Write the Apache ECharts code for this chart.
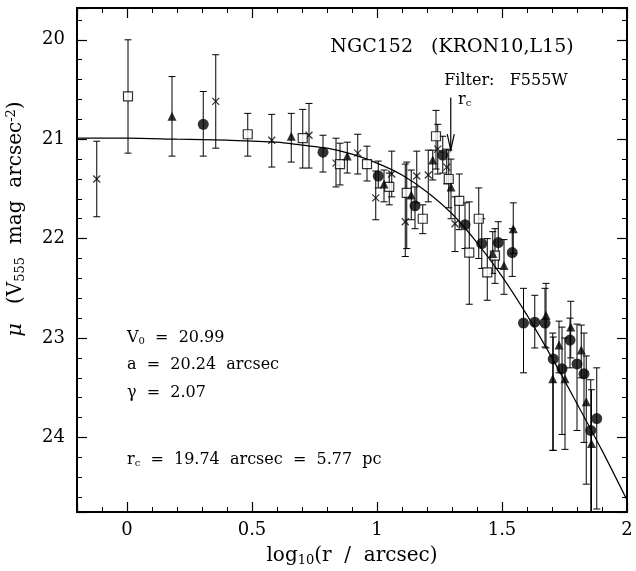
<!DOCTYPE html>
<html>
<head>
<meta charset="utf-8">
<script src="https://cdn.jsdelivr.net/npm/echarts@6/dist/echarts.min.js"></script>
<style>html,body{margin:0;padding:0;background:#fff;}#c{width:636px;height:571px;}</style>
</head>
<body>
<div id="c"></div>
<script>
// Data points: [log10 r, mu, error low (bright end), error high (faint end)]
const crossPts = [
  [-0.121, 21.40, 21.02, 21.78],
  [0.355, 20.62, 20.15, 21.09],
  [0.579, 21.01, 20.75, 21.28],
  [0.728, 20.96, 20.64, 21.29],
  [0.836, 21.24, 20.99, 21.48],
  [0.923, 21.14, 20.95, 21.35],
  [0.995, 21.59, 21.32, 21.81],
  [1.059, 21.35, 21.12, 21.58],
  [1.113, 21.83, 21.25, 22.18],
  [1.159, 21.37, 21.12, 21.64],
  [1.205, 21.36, 21.11, 21.63],
  [1.243, 21.10, 20.85, 21.35],
  [1.279, 21.28, 21.10, 21.45],
  [1.312, 21.85, 21.58, 22.13]
];
const squarePts = [
  [0.004, 20.57, 20.00, 21.14],
  [0.483, 20.95, 20.74, 21.17],
  [0.703, 20.99, 20.70, 21.29],
  [0.852, 21.25, 21.04, 21.46],
  [0.960, 21.25, 21.07, 21.42],
  [1.049, 21.48, 21.34, 21.66],
  [1.119, 21.54, 21.23, 22.10],
  [1.183, 21.80, 21.66, 21.95],
  [1.236, 20.97, 20.71, 21.30],
  [1.287, 21.40, 21.11, 21.69],
  [1.329, 21.62, 21.35, 21.91],
  [1.369, 22.14, 21.63, 22.66],
  [1.407, 21.80, 21.49, 22.20],
  [1.441, 22.34, 22.00, 22.62],
  [1.472, 22.17, 21.90, 22.45]
];
const trianglePts = [
  [0.180, 20.77, 20.37, 21.17],
  [0.657, 20.97, 20.74, 21.23],
  [0.881, 21.17, 21.03, 21.34],
  [1.028, 21.45, 21.31, 21.63],
  [1.137, 21.56, 21.31, 21.81],
  [1.223, 21.21, 21.11, 21.41],
  [1.296, 21.48, 21.20, 21.80],
  [1.463, 22.15, 21.93, 22.35],
  [1.508, 22.27, 22.01, 22.56],
  [1.545, 21.90, 21.64, 22.15],
  [1.676, 22.77, 22.45, 23.10],
  [1.703, 23.41, 22.95, 24.13],
  [1.728, 23.07, 22.83, 23.35],
  [1.752, 23.41, 23.00, 24.12],
  [1.775, 22.89, 22.63, 23.20],
  [1.817, 23.12, 22.87, 23.40],
  [1.837, 23.64, 23.18, 24.47],
  [1.858, 24.06, 23.52, 24.75]
];
const circlePts = [
  [0.305, 20.85, 20.52, 21.17],
  [0.784, 21.13, 20.96, 21.33],
  [1.005, 21.37, 21.22, 21.49],
  [1.152, 21.67, 21.48, 21.90],
  [1.263, 21.16, 20.97, 21.34],
  [1.352, 21.86, 21.64, 22.10],
  [1.419, 22.05, 21.80, 22.30],
  [1.485, 22.04, 21.83, 22.30],
  [1.541, 22.14, 21.90, 22.38],
  [1.586, 22.85, 22.50, 23.35],
  [1.631, 22.84, 22.57, 23.10],
  [1.672, 22.85, 22.50, 23.09],
  [1.705, 23.21, 22.99, 24.13],
  [1.740, 23.31, 22.89, 23.97],
  [1.772, 23.02, 22.80, 23.30],
  [1.800, 23.26, 22.86, 23.93],
  [1.828, 23.36, 22.95, 24.05],
  [1.855, 23.93, 23.42, 24.75],
  [1.879, 23.81, 23.30, 24.72]
];
// Model curve
const curveX = [-0.2, 0.0, 0.2, 0.4, 0.6, 0.7, 0.8, 0.9, 1.0, 1.1, 1.2, 1.3, 1.4, 1.5, 1.6, 1.7, 1.8, 1.9, 2.0];
const curveY = [20.99, 20.99, 21.00, 21.01, 21.03, 21.06, 21.09, 21.15, 21.24, 21.36, 21.53, 21.75, 22.04, 22.38, 22.77, 23.20, 23.66, 24.13, 24.63];
// r_c arrow: [x, top, bottom]
const rcArrow = [[1.295, 20.58, 21.11]];
const xRange = [-0.2, 2];
const yRange = [19.68, 24.75];
const annot = {
  title: 'NGC152   (KRON10,L15)',
  filter: 'Filter:   F555W',
  v0: '20.99', a: '20.24', gamma: '2.07', rc: '19.74', rcpc: '5.77'
};

const FONT = 'DejaVu Serif';
const chart = echarts.init(document.getElementById('c'), null, {renderer: 'canvas'});

function errRender(params, api) {
  const x = api.value(0), lo = api.value(2), hi = api.value(3);
  const p1 = api.coord([x, lo]), p2 = api.coord([x, hi]);
  const w = 3.5;
  const st = {stroke: '#000', lineWidth: 1};
  return {type: 'group', children: [
    {type: 'line', shape: {x1: p1[0], y1: p1[1], x2: p2[0], y2: p2[1]}, style: st},
    {type: 'line', shape: {x1: p1[0] - w, y1: p1[1], x2: p1[0] + w, y2: p1[1]}, style: st},
    {type: 'line', shape: {x1: p2[0] - w, y1: p2[1], x2: p2[0] + w, y2: p2[1]}, style: st}
  ]};
}
function arrowRender(params, api) {
  const x = api.value(0);
  const t = api.coord([x, api.value(1)]), b = api.coord([x, api.value(2)]);
  const st = {stroke: '#000', lineWidth: 1.2, fill: null};
  return {type: 'group', children: [
    {type: 'line', shape: {x1: t[0], y1: t[1], x2: b[0], y2: b[1]}, style: st},
    {type: 'polyline', shape: {points: [[b[0] - 3.5, b[1] - 16], [b[0], b[1]], [b[0] + 3.5, b[1] - 16]]}, style: st}
  ]};
}
function errSeries(pts) {
  return {type: 'custom', renderItem: errRender, data: pts, encode: {x: 0, y: 1}, clip: true, z: 2, silent: true};
}
const axisCommon = {
  type: 'value',
  axisLine: {show: true, onZero: false, lineStyle: {color: '#000', width: 2}},
  axisTick: {show: true, inside: true, length: 10, lineStyle: {color: '#000', width: 1.2}},
  minorTick: {show: true, splitNumber: 5, length: 5, lineStyle: {color: '#000', width: 1}},
  splitLine: {show: false},
  minorSplitLine: {show: false}
};
const labelStyle = {color: '#000', fontFamily: FONT, fontSize: 18, showMinLabel: false, showMaxLabel: false};
const subRich = {
  s: {fontSize: 13, fontFamily: FONT, color: '#000', verticalAlign: 'bottom', padding: [9, 0, 0, 0]},
  p: {fontSize: 13, fontFamily: FONT, color: '#000', verticalAlign: 'top', padding: [0, 0, 8, 0]},
  i: {fontStyle: 'italic', fontFamily: FONT, fontSize: 21, color: '#000'}
};
const smallSub = {s: {fontSize: 10, fontFamily: FONT, color: '#000', verticalAlign: 'bottom', padding: [7, 0, 0, 0]}};

chart.setOption({
  backgroundColor: '#fff',
  animation: false,
  grid: {left: 77, right: 9, top: 8, bottom: 59, outerBoundsMode: 'none'},
  xAxis: [
    Object.assign({}, axisCommon, {position: 'bottom', min: xRange[0], max: xRange[1], splitNumber: 5,
      axisLabel: Object.assign({}, labelStyle, {margin: 9, showMaxLabel: true}),
      name: 'log{s|10}(r  /  arcsec)', nameLocation: 'middle', nameGap: 33,
      nameTextStyle: {color: '#000', fontFamily: FONT, fontSize: 20, rich: subRich}}),
    Object.assign({}, axisCommon, {position: 'top', min: xRange[0], max: xRange[1], splitNumber: 5,
      axisLabel: {show: false}})
  ],
  yAxis: [
    Object.assign({}, axisCommon, {position: 'left', inverse: true, min: yRange[0], max: yRange[1], splitNumber: 5,
      axisLabel: Object.assign({}, labelStyle, {margin: 12})}),
    Object.assign({}, axisCommon, {position: 'right', inverse: true, min: yRange[0], max: yRange[1], splitNumber: 5,
      axisLabel: {show: false}})
  ],
  graphic: [
    {type: 'text', x: 16, y: 219, rotation: Math.PI / 2,
      style: {text: '{i|μ}   (V{s|555}  mag  arcsec{p|-2})', font: '20px "DejaVu Serif"', fill: '#000', align: 'center', verticalAlign: 'middle',
        rich: subRich}},
    {type: 'text', x: 452, y: 47, style: {text: annot.title, font: '19px "DejaVu Serif"', fill: '#000', align: 'center', verticalAlign: 'middle'}},
    {type: 'text', x: 506, y: 81, style: {text: annot.filter, font: '16px "DejaVu Serif"', fill: '#000', align: 'center', verticalAlign: 'middle'}},
    {type: 'text', x: 458, y: 100, style: {text: 'r{s|c}', font: '16px "DejaVu Serif"', fill: '#000', align: 'left', verticalAlign: 'middle',
        rich: smallSub}},
    {type: 'text', x: 127, y: 338, style: {text: 'V{s|0}  =  ' + annot.v0, font: '16px "DejaVu Serif"', fill: '#000', align: 'left', verticalAlign: 'middle', rich: smallSub}},
    {type: 'text', x: 127, y: 365, style: {text: 'a  =  ' + annot.a + '  arcsec', font: '16px "DejaVu Serif"', fill: '#000', align: 'left', verticalAlign: 'middle'}},
    {type: 'text', x: 127, y: 393, style: {text: 'γ  =  ' + annot.gamma, font: '16px "DejaVu Serif"', fill: '#000', align: 'left', verticalAlign: 'middle'}},
    {type: 'text', x: 127, y: 460, style: {text: 'r{s|c}  =  ' + annot.rc + '  arcsec  =  ' + annot.rcpc + '  pc', font: '16px "DejaVu Serif"', fill: '#000', align: 'left', verticalAlign: 'middle',
        rich: smallSub}}
  ],
  series: [
    {type: 'line', data: curveX.map((x, i) => [x, curveY[i]]), smooth: 0.3, showSymbol: false, symbol: 'none',
      lineStyle: {color: '#000', width: 1.2}, z: 1, silent: true},
    errSeries(crossPts), errSeries(squarePts), errSeries(trianglePts), errSeries(circlePts),
    {type: 'scatter', data: crossPts, encode: {x: 0, y: 1}, symbol: 'path://M0,0L10,10M10,0L0,10', symbolSize: 7,
      itemStyle: {color: 'rgba(0,0,0,0)', borderColor: '#000', borderWidth: 1.2}, z: 3, silent: true},
    {type: 'scatter', data: squarePts, encode: {x: 0, y: 1}, symbol: 'rect', symbolSize: 9,
      itemStyle: {color: '#fff', borderColor: '#000', borderWidth: 1.2}, z: 3, silent: true},
    {type: 'scatter', data: trianglePts, encode: {x: 0, y: 1}, symbol: 'triangle', symbolSize: 9,
      itemStyle: {color: '#000'}, z: 3, silent: true},
    {type: 'scatter', data: circlePts, encode: {x: 0, y: 1}, symbol: 'circle', symbolSize: 11,
      itemStyle: {color: '#000'}, z: 3, silent: true},
    {type: 'custom', renderItem: arrowRender, data: rcArrow, encode: {x: 0, y: 1}, z: 3, silent: true}
  ]
});
</script>
</body>
</html>
